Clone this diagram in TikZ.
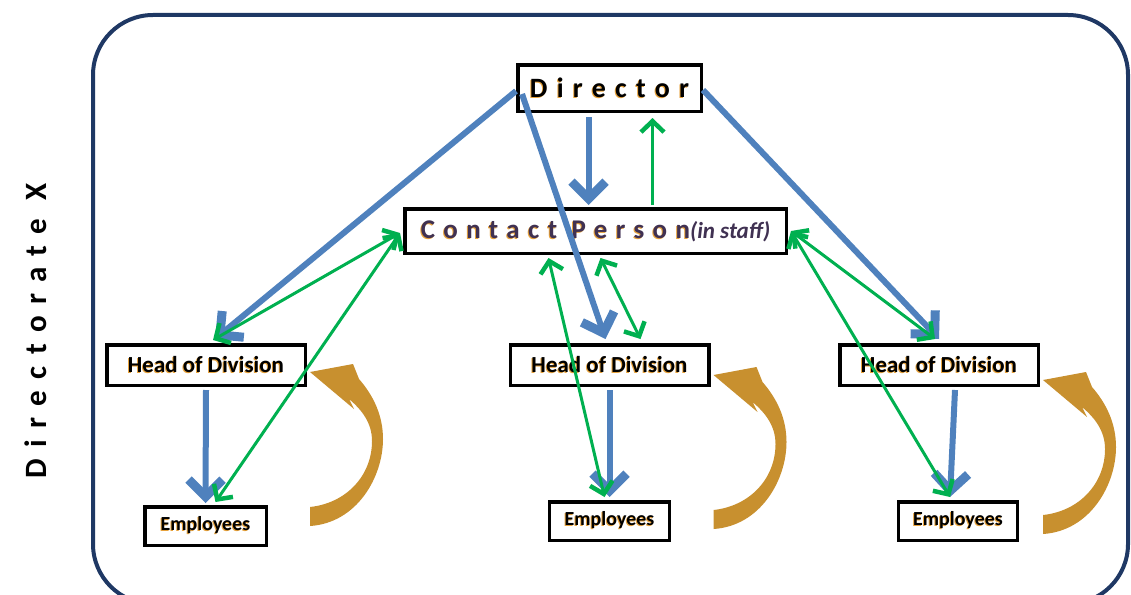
\documentclass[tikz,border=0pt]{standalone}
\usepackage{fontspec}
\setmainfont{Carlito}
\newfontfamily\spacedfont[LetterSpace=33]{Carlito}
\newfontfamily\sidefont[LetterSpace=37]{Carlito}
\newfontfamily\contactfont[LetterSpace=31]{Carlito}
\usetikzlibrary{arrows.meta}
\definecolor{frameblue}{HTML}{1F3864}
\definecolor{linkblue}{HTML}{4F81BD}
\definecolor{linkgreen}{HTML}{00B050}
\definecolor{loopgold}{HTML}{C8902F}
\definecolor{glowgold}{HTML}{E8A33C}
\definecolor{contactpurple}{HTML}{403152}
\newcommand\glow[1]{\leavevmode\rlap{\kern-1pt\raisebox{-1pt}{\color{glowgold}#1}}#1}
\tikzset{
	box/.style = {
		draw = black,
		fill = white,
		rectangle,
		line width = 3.5pt,
		text centered,
		inner sep = 0pt,
		font = \bfseries
	},
	order/.style = {
		draw = linkblue,
		line width = 6pt,
		> = {Straight Barb[length=17pt, width=34pt, line width=9pt]}
	},
	liaison/.style = {
		draw = linkgreen,
		line width = 3pt,
		> = {Straight Barb[length=11pt, width=23pt, line width=4.5pt]}
	}
}
% curved arrow looping back from the employees to their head of division
\newcommand\loopback[2]{
	\fill [loopgold, shift = {(#1.east)}, yshift = -#2pt]
		(3,7) -- (46,-1) -- (52,14)
		.. controls (66,30) and (76,50) .. (76,74)
		.. controls (76,112) and (50,158) .. (3,161)
		-- (3,142)
		.. controls (40,138) and (65,110) .. (65,76)
		.. controls (65,58) and (55,45) .. (42,34)
		-- (47,44) -- cycle ;
}

\begin{document}
\begin{tikzpicture}[x = 1pt, y = -1pt]
    \useasboundingbox (0,0) rectangle (1131,594) ;
    \clip (0,0) rectangle (1131,594) ;

    \draw [frameblue, line width = 4pt, rounded corners = 60pt] (93,15) rectangle (1128,604) ;
    \node [rotate = 90, font = \bfseries] (dirx) at (36,331) {\sidefont\fontsize{31}{33}\selectfont Directorate X} ;

    \node [box, minimum width = 183.5pt, minimum height = 46.5pt] (dir) at (609.5,88) {\spacedfont\fontsize{28}{30}\selectfont\glow{Director}} ;
    \node [box, minimum width = 381.5pt, minimum height = 44.5pt, text = contactpurple] (contact) at (595.5,231) {\contactfont\fontsize{27}{29}\selectfont\glow{Contact Person}\fontsize{23}{25}\selectfont\normalfont\bfseries\itshape(in staff)} ;

    \node [box, minimum width = 198.5pt, minimum height = 40.5pt, font = \bfseries\fontsize{23}{25}\selectfont] (hodL) at (206,365) {\glow{Head of Division}} ;
    \node [box, minimum width = 198.5pt, minimum height = 40.5pt, font = \bfseries\fontsize{23}{25}\selectfont] (hodM) at (609.5,365) {\glow{Head of Division}} ;
    \node [box, minimum width = 198.5pt, minimum height = 40.5pt, font = \bfseries\fontsize{23}{25}\selectfont] (hodR) at (939,365) {\glow{Head of Division}} ;

    \node [box, minimum width = 121.5pt, minimum height = 38.5pt, font = \bfseries\fontsize{20}{22}\selectfont] (empL) at (205.5,526) {\glow{Employees}} ;
    \node [box, minimum width = 120pt, minimum height = 38.5pt, font = \bfseries\fontsize{20}{22}\selectfont] (empM) at (609.5,521) {\glow{Employees}} ;
    \node [box, minimum width = 119pt, minimum height = 38.5pt, font = \bfseries\fontsize{20}{22}\selectfont] (empR) at (958,521) {\glow{Employees}} ;

    \draw [order, ->] ([yshift = -3pt]dir.west) -- ([xshift = 9pt, yshift = 4pt]hodL.north) ;
    \draw [order, ->] ([xshift = 6pt, yshift = -6pt]dir.west) -- ([xshift = -4pt, yshift = 4pt]hodM.north) ;
    \draw [order, ->] ([yshift = -2pt]dir.east) -- ([yshift = 4pt]hodR.north) ;
    \draw [order, ->] ([xshift = -21pt, yshift = -4pt]dir.south) -- ([xshift = -21pt, yshift = 2pt]dir.south |- contact.north) ;
    \draw [order, ->] ([yshift = -3pt]hodL.south) -- ([yshift = 2pt]empL.north) ;
    \draw [order, ->] ([yshift = -3pt]hodM.south) -- ([yshift = 3pt]empM.north) ;
    \draw [order, ->] ([xshift = 16pt, yshift = -3pt]hodR.south) -- ([xshift = -8pt, yshift = 3pt]empR.north) ;

    \draw [liaison, ->] ([xshift = 57pt, yshift = 2pt]contact.north) -- ([xshift = 57pt, yshift = -5pt]contact.north |- dir.south) ;
    \draw [liaison, <->] ([xshift = -3pt, yshift = -2pt]contact.west) -- ([xshift = 7pt, yshift = 3pt]hodL.north) ;
    \draw [liaison, <->] ([xshift = -3pt, yshift = -2pt]contact.west) -- ([xshift = 10pt, yshift = 3pt]empL.north) ;
    \draw [liaison, <->] ([xshift = -47pt, yshift = -3pt]contact.south) -- ([xshift = -5pt, yshift = 3pt]empM.north) ;
    \draw [liaison, <->] ([xshift = 5pt, yshift = -3pt]contact.south) -- ([xshift = 31pt, yshift = 4pt]hodM.north) ;
    \draw [liaison, <->] ([xshift = 3pt]contact.east) -- ([xshift = -4pt, yshift = 4pt]hodR.north) ;
    \draw [liaison, <->] ([xshift = 3pt]contact.east) -- ([xshift = -8pt, yshift = 3pt]empR.north) ;

    \loopback{hodL}{0}
    \loopback{hodM}{3}
    \loopback{hodR}{8}
\end{tikzpicture}
\end{document}
